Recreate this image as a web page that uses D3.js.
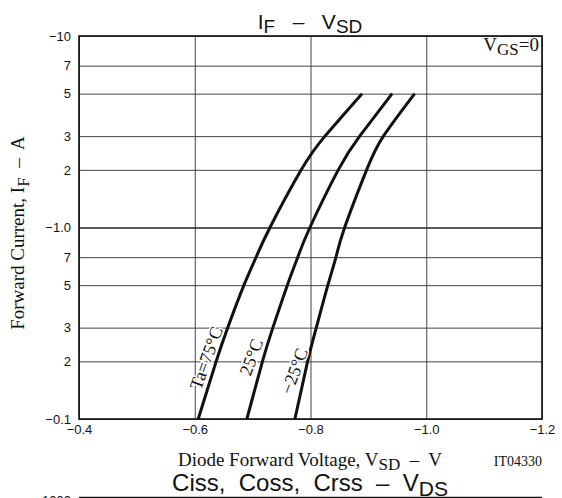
<!DOCTYPE html>
<html>
<head>
<meta charset="utf-8">
<script src="https://cdn.jsdelivr.net/npm/d3@7"></script>
<style>
  body { margin: 0; background: #fff; }
  svg { display: block; }
  text { white-space: pre; }
  .sans { font-family: "Liberation Sans", Arial, sans-serif; }
  .serif { font-family: "Liberation Serif", "Times New Roman", serif; }
</style>
</head>
<body>
<svg id="chart"></svg>
<script>
// forward current points (A, shown negative on the axis)
const current = [0.1, 0.2, 0.3, 0.5, 0.7, 1, 2, 3, 5];
// diode forward voltage at each current, per ambient temperature
const v75 = [-0.606, -0.637, -0.657, -0.685, -0.706, -0.730, -0.784, -0.825, -0.889];
const v25 = [-0.690, -0.717, -0.735, -0.760, -0.778, -0.799, -0.848, -0.885, -0.941];
const vm25 = [-0.773, -0.795, -0.810, -0.830, -0.844, -0.859, -0.897, -0.926, -0.980];
const seriesNames = ["Ta=75°C", "25°C", "−25°C"];

const xTicks = [-0.4, -0.6, -0.8, -1.0, -1.2];
const xTickLabels = ["−0.4", "−0.6", "−0.8", "−1.0", "−1.2"];
const yTicks = [0.1, 0.2, 0.3, 0.5, 0.7, 1, 2, 3, 5, 7, 10];
const yTickLabels = ["−0.1", "2", "3", "5", "7", "−1.0", "2", "3", "5", "7", "−10"];

const W = 562, H = 498;
const mLeft = 79, mRight = 542, mTop = 36, mBottom = 419;

const svg = d3.select("#chart").attr("width", W).attr("height", H);

const x = d3.scaleLinear().domain([-0.4, -1.2]).range([mLeft, mRight]);
const y = d3.scaleLog().domain([0.1, 10]).range([mBottom, mTop]);

// grid + tick labels
svg.append("g")
  .attr("transform", `translate(0,${mBottom})`)
  .call(d3.axisBottom(x).tickValues(xTicks).tickSize(-(mBottom - mTop)).tickFormat((d, i) => xTickLabels[i]).tickPadding(6))
  .call(g => g.select(".domain").remove())
  .call(g => g.selectAll(".tick line").attr("stroke", "#444").attr("stroke-width", 1))
  .call(g => g.selectAll(".tick text").attr("class", "sans").attr("font-size", 13).attr("fill", "#111"));

svg.append("g")
  .attr("transform", `translate(${mLeft},0)`)
  .call(d3.axisLeft(y).tickValues(yTicks).tickSize(-(mRight - mLeft)).tickFormat((d, i) => yTickLabels[i]).tickPadding(8))
  .call(g => g.select(".domain").remove())
  .call(g => g.selectAll(".tick line").attr("stroke", d => d === 1 ? "#222" : "#444").attr("stroke-width", d => d === 1 ? 1.4 : 1))
  .call(g => g.selectAll(".tick text").attr("class", "sans").attr("font-size", 13).attr("fill", "#111"));

// frame
svg.append("rect")
  .attr("x", mLeft).attr("y", mTop)
  .attr("width", mRight - mLeft).attr("height", mBottom - mTop)
  .attr("fill", "none").attr("stroke", "#111").attr("stroke-width", 1.6);

// curves
const line = d3.line()
  .x(d => x(d[0]))
  .y(d => y(d[1]))
  .curve(d3.curveNatural);

[v75, v25, vm25].forEach(vals => {
  svg.append("path")
    .datum(vals.map((v, i) => [v, current[i]]))
    .attr("d", line)
    .attr("fill", "none")
    .attr("stroke", "#111")
    .attr("stroke-width", 3);
});

// curve labels
const labelPos = [[206, 358], [251, 357], [294, 371]];
seriesNames.forEach((name, i) => {
  svg.append("text")
    .attr("class", "serif")
    .attr("transform", `translate(${labelPos[i][0]},${labelPos[i][1]}) rotate(-70)`)
    .attr("text-anchor", "middle")
    .attr("dy", "0.35em")
    .attr("font-size", 18)
    .attr("fill", "#111")
    .attr("stroke", "#fff").attr("stroke-width", 3).attr("paint-order", "stroke")
    .text(name);
});

// VGS=0
const vgs = svg.append("text").attr("class", "serif").attr("font-size", 19)
  .attr("x", mRight - 3).attr("y", 51).attr("text-anchor", "end").attr("fill", "#111");
vgs.append("tspan").text("V");
vgs.append("tspan").attr("dy", 4).attr("font-size", 17).text("GS");
vgs.append("tspan").attr("dy", -4).text("=0");

// title
const title = svg.append("text").attr("class", "sans").attr("font-size", 21)
  .attr("x", 310).attr("y", 29).attr("text-anchor", "middle").attr("fill", "#111");
title.append("tspan").text("I");
title.append("tspan").attr("dy", 4).attr("font-size", 19).text("F");
title.append("tspan").attr("dy", -4).text("   –   V");
title.append("tspan").attr("dy", 4).attr("font-size", 19).text("SD");

// x axis title
const xt = svg.append("text").attr("class", "serif").attr("font-size", 19)
  .attr("x", 310).attr("y", 466).attr("text-anchor", "middle").attr("fill", "#111");
xt.append("tspan").text("Diode Forward Voltage, V");
xt.append("tspan").attr("dy", 4).attr("font-size", 17).text("SD");
xt.append("tspan").attr("dy", -4).text("  –  V");

svg.append("text").attr("class", "serif").attr("font-size", 14)
  .attr("x", mRight).attr("y", 466).attr("text-anchor", "end").attr("fill", "#111")
  .text("IT04330");

// y axis title
const yt = svg.append("text").attr("class", "serif").attr("font-size", 19)
  .attr("transform", `translate(24,233) rotate(-90)`)
  .attr("text-anchor", "middle").attr("fill", "#111");
yt.append("tspan").text("Forward Current, I");
yt.append("tspan").attr("dy", 5).attr("font-size", 17).text("F");
yt.append("tspan").attr("dy", -5).text("  –  A");

// next chart header (cut off at bottom)
const t2 = svg.append("text").attr("class", "sans").attr("font-size", 24)
  .attr("x", 310).attr("y", 491).attr("text-anchor", "middle").attr("fill", "#111");
t2.append("tspan").text("Ciss,  Coss,  Crss  –  V");
t2.append("tspan").attr("dy", 5).attr("font-size", 21).text("DS");

svg.append("text").attr("class", "sans").attr("font-size", 13)
  .attr("x", 71).attr("y", 505).attr("text-anchor", "end").attr("fill", "#111")
  .text("1000");
svg.append("line").attr("x1", mLeft).attr("x2", mRight).attr("y1", 497.5).attr("y2", 497.5)
  .attr("stroke", "#111").attr("stroke-width", 1.6);
</script>
</body>
</html>
